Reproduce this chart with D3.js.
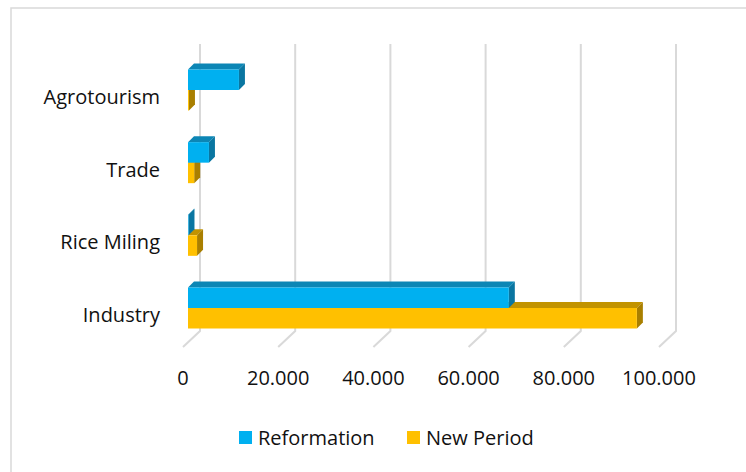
<!DOCTYPE html>
<html>
<head>
<meta charset="utf-8">
<script src="https://cdn.jsdelivr.net/npm/d3@7"></script>
<style>
  body { margin: 0; background: #fff; }
  text { font-family: "Open Sans", "Noto Sans", sans-serif; fill: #111; }
</style>
</head>
<body>
<div id="chart"></div>
<script>
// data, top row first
var categories = ["Agrotourism", "Trade", "Rice Miling", "Industry"];
var reformation = [10700, 4400, 100, 67400];
var newPeriod   = [200, 1300, 1900, 94300];
var tickValues  = [0, 20000, 40000, 60000, 80000, 100000];
var seriesNames = ["Reformation", "New Period"];

var colFront = ["#00b0f0", "#ffc000"],
    colTop   = ["#0c86b5", "#c29300"],
    colSide  = ["#0a76a1", "#a97f00"];

var W = 746, H = 472;

// 3d layout: back wall, bar plane, floor front
var wallX = 200, wallTop = 44, wallBottom = 331;
var floorDx = -17, floorDy = 16;
var barX = 188, depthX = 6, depthY = -6, barH = 20.5;

var loc = d3.formatLocale({decimal: ",", thousands: ".", grouping: [3], currency: ["", ""]});
var fmt = loc.format(",.0f");

var x = d3.scaleLinear().domain([0, 100000]).range([0, 476]);
var y = d3.scalePoint().domain(categories).range([90, 308]);

var svg = d3.select("#chart").append("svg")
    .attr("width", W)
    .attr("height", H);

svg.append("rect")
    .attr("x", 11).attr("y", 8)
    .attr("width", 780).attr("height", 500)
    .attr("fill", "#fff")
    .attr("stroke", "#d9d9d9")
    .attr("stroke-width", 1.5);

// gridlines: back wall + floor diagonal
var grid = svg.append("g");
tickValues.forEach(function(v) {
  var gx = wallX + x(v);
  grid.append("path")
      .attr("d", "M" + gx + "," + wallTop + " L" + gx + "," + wallBottom +
                 " L" + (gx + floorDx) + "," + (wallBottom + floorDy))
      .attr("fill", "none")
      .attr("stroke", "#d9d9d9")
      .attr("stroke-width", 2);
});

// tick labels on the front floor edge
svg.append("g").selectAll("text")
    .data(tickValues)
  .enter().append("text")
    .attr("x", function(d) { return wallX + floorDx + x(d); })
    .attr("y", 378)
    .attr("dy", "0.35em")
    .attr("text-anchor", "middle")
    .style("font-size", "20px")
    .text(function(d) { return fmt(d); });

// category labels
svg.append("g").selectAll("text")
    .data(categories)
  .enter().append("text")
    .attr("x", 160)
    .attr("y", function(d) { return y(d) + 7; })
    .attr("dy", "0.35em")
    .attr("text-anchor", "end")
    .style("font-size", "20px")
    .text(function(d) { return d; });

// a 3d bar: front, top, right side
function bar3d(g, x0, y0, w, h, s) {
  var x1 = x0 + w, y1 = y0 + h;
  g.append("path")
      .attr("d", "M" + x0 + "," + y0 + " L" + (x0 + depthX) + "," + (y0 + depthY) +
                 " L" + (x1 + depthX) + "," + (y0 + depthY) + " L" + x1 + "," + y0 + "Z")
      .attr("fill", colTop[s]);
  g.append("path")
      .attr("d", "M" + x1 + "," + y0 + " L" + (x1 + depthX) + "," + (y0 + depthY) +
                 " L" + (x1 + depthX) + "," + (y1 + depthY) + " L" + x1 + "," + y1 + "Z")
      .attr("fill", colSide[s]);
  g.append("rect")
      .attr("x", x0).attr("y", y0)
      .attr("width", w).attr("height", h)
      .attr("fill", colFront[s]);
}

var bars = svg.append("g");
categories.forEach(function(c, i) {
  // lower (New Period) first so the upper bar covers its top face
  bar3d(bars, barX, y(c), x(newPeriod[i]), barH, 1);
  bar3d(bars, barX, y(c) - barH, x(reformation[i]), barH, 0);
});

// legend
var legend = svg.append("g");
var legX = [239, 407];
seriesNames.forEach(function(n, i) {
  legend.append("rect")
      .attr("x", legX[i]).attr("y", 431)
      .attr("width", 13).attr("height", 13)
      .attr("fill", colFront[i]);
  legend.append("text")
      .attr("x", legX[i] + 19)
      .attr("y", 438)
      .attr("dy", "0.35em")
      .style("font-size", "20px")
      .text(n);
});
</script>
</body>
</html>
